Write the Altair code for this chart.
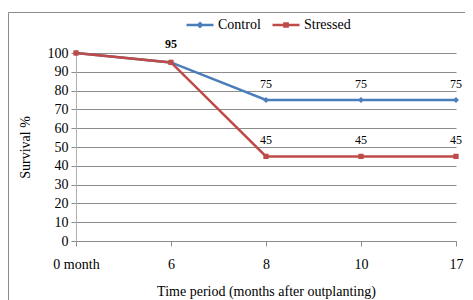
import altair as alt
import pandas as pd

periods = ["0 month", "6", "8", "10", "17"]
control = [100, 95, 75, 75, 75]
stressed = [100, 95, 45, 45, 45]
control_labels = ["", "95", "75", "75", "75"]
stressed_labels = ["", "", "45", "45", "45"]
series_names = ["Control", "Stressed"]
colors = ["#4A7EBB", "#BE4B48"]

rows = []
for i, p in enumerate(periods):
    rows.append({"period": p, "series": "Control", "value": control[i],
                 "label": control_labels[i], "bold": control_labels[i] == "95"})
for i, p in enumerate(periods):
    rows.append({"period": p, "series": "Stressed", "value": stressed[i],
                 "label": stressed_labels[i], "bold": False})
df = pd.DataFrame(rows)

FONT = "Liberation Serif"
GRAY = "#8c8c8c"

sym_expr = ("datum.value == 'Control' ? 'M-1,0H1M0,-0.13L0.13,0L0,0.13L-0.13,0Z'"
            " : 'M-1,0H1M-0.12,-0.12H0.12V0.12H-0.12Z'")

x = alt.X("period:O", sort=periods, scale=alt.Scale(type="point", padding=0),
          axis=alt.Axis(title="Time period (months after outplanting)", labelAngle=0,
                        tickSize=5, labelPadding=11, titlePadding=13, grid=False,
                        domainColor=GRAY, tickColor=GRAY))
y = alt.Y("value:Q", scale=alt.Scale(domain=[0, 100]),
          axis=alt.Axis(values=list(range(0, 101, 10)), title="Survival %",
                        grid=True, gridColor=GRAY, tickSize=5, labelPadding=3,
                        titlePadding=15, domainColor="#b0b0b0", tickColor=GRAY))
color = alt.Color("series:N", scale=alt.Scale(domain=series_names, range=colors),
                  legend=alt.Legend(orient="none", legendX=109, legendY=-43,
                                    direction="horizontal", title=None,
                                    labelFont=FONT, labelFontSize=14, labelColor="black",
                                    symbolType=alt.ExprRef(expr=sym_expr),
                                    symbolSize=729, symbolStrokeWidth=2.5,
                                    columnPadding=6, labelOffset=3))

border = alt.Chart(pd.DataFrame({"a": [0]})).mark_rect(
    fillOpacity=0, stroke=GRAY, strokeWidth=1
).encode(x=alt.value(-67.5), x2=alt.value(440), y=alt.value(-40.5), y2=alt.value(300))

lines = alt.Chart(df).mark_line(strokeWidth=2.5).encode(x=x, y=y, color=color)

pts_c = alt.Chart(df).transform_filter("datum.series == 'Control'").mark_point(
    shape="diamond", filled=True, size=35, opacity=1).encode(x=x, y=y, color=color)
pts_s = alt.Chart(df).transform_filter("datum.series == 'Stressed'").mark_point(
    shape="square", filled=True, size=28, opacity=1).encode(x=x, y=y, color=color)

txt = alt.Chart(df).transform_filter("datum.label != '' && !datum.bold").mark_text(
    dy=-16, fontSize=12, font=FONT, color="black").encode(x=x, y=y, text="label:N")
txt_b = alt.Chart(df).transform_filter("datum.bold").mark_text(
    dy=-18, fontSize=12, font=FONT, fontWeight="bold", color="black").encode(x=x, y=y, text="label:N")

chart = alt.layer(border, lines, pts_c, pts_s, txt, txt_b).properties(
    width=380, height=188,
    autosize=alt.AutoSizeParams(type="none"),
    padding={"left": 68, "top": 45, "right": 9, "bottom": 60},
).configure_view(strokeWidth=0).configure_axis(
    labelFont=FONT, titleFont=FONT, labelFontSize=14, titleFontSize=14,
    titleFontWeight="normal", labelColor="black", titleColor="black"
)

chart.save("out.html", embed_options={"renderer": "svg", "actions": False})
